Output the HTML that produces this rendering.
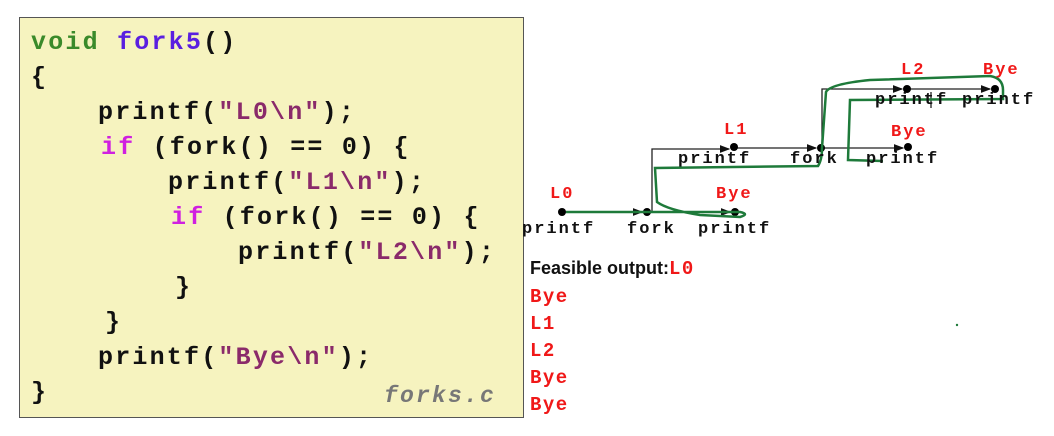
<!DOCTYPE html>
<html><head><meta charset="utf-8"><style>
body{margin:0;width:1054px;height:436px;background:#fff;position:relative;overflow:hidden;font-family:"Liberation Mono",monospace}
#box{position:absolute;left:19px;top:17px;width:505px;height:401px;background:#f6f3bf;border:1px solid #555;box-sizing:border-box}
.c{position:absolute;font-family:"Liberation Mono",monospace;font-weight:bold;font-size:25px;letter-spacing:2.2px;color:#111;white-space:pre;line-height:30px}
.g{color:#3a8a2a}.b{color:#5a1fe0}.m{color:#d020e0}.s{color:#8a2a6a}
.o{position:absolute;left:530px;font-weight:bold;font-size:19px;letter-spacing:1.5px;color:#f01818;line-height:22px}
.t{position:absolute;font-weight:bold;font-size:17px;letter-spacing:2px;color:#111;white-space:pre;line-height:18px}
.r{color:#f01818}
</style></head><body>
<div id="box"></div>
<div class="c" style="left:31px;top:28px"><span class="g">void</span> <span class="b">fork5</span>()</div>
<div class="c" style="left:31px;top:63px">{</div>
<div class="c" style="left:98px;top:98px">printf(<span class="s">"L0\n"</span>);</div>
<div class="c" style="left:101px;top:133px"><span class="m">if</span> (fork() == 0) {</div>
<div class="c" style="left:168px;top:168px">printf(<span class="s">"L1\n"</span>);</div>
<div class="c" style="left:171px;top:203px"><span class="m">if</span> (fork() == 0) {</div>
<div class="c" style="left:238px;top:238px">printf(<span class="s">"L2\n"</span>);</div>
<div class="c" style="left:175px;top:273px">}</div>
<div class="c" style="left:105px;top:308px">}</div>
<div class="c" style="left:98px;top:343px">printf(<span class="s">"Bye\n"</span>);</div>
<div class="c" style="left:31px;top:378px">}</div>
<div class="c" style="left:384px;top:381px;color:#777;font-style:italic;font-size:23px">forks.c</div>

<svg width="1054" height="436" style="position:absolute;left:0;top:0">
<defs><marker id="a" markerWidth="8" markerHeight="8" refX="7" refY="4" orient="auto"><path d="M0,1 L8,4 L0,7z" fill="#111"/></marker></defs>
<g stroke="#222" stroke-width="1.3" fill="none">
<line x1="562" y1="212" x2="642" y2="212" marker-end="url(#a)"/>
<line x1="647" y1="212" x2="730" y2="212" marker-end="url(#a)"/>
<polyline points="652,212 652,149 729,149" marker-end="url(#a)"/>
<line x1="734" y1="148" x2="816" y2="148" marker-end="url(#a)"/>
<line x1="821" y1="148" x2="903" y2="148" marker-end="url(#a)"/>
<polyline points="822,148 822,89 902,89" marker-end="url(#a)"/>
<line x1="907" y1="89" x2="990" y2="89" marker-end="url(#a)"/>
<line x1="931" y1="92" x2="931" y2="108"/>
</g>
<g fill="#000">
<circle cx="562" cy="212" r="4"/><circle cx="647" cy="212" r="4"/><circle cx="735" cy="212" r="4"/>
<circle cx="734" cy="147" r="4"/><circle cx="821" cy="148" r="4"/><circle cx="908" cy="147" r="4"/>
<circle cx="907" cy="89" r="4"/><circle cx="995" cy="89" r="4"/>
</g>
<path d="M566,212 L740,212 Q750,214 740,217 L700,215 Q668,210 657,202 L655,168 L818,166 Q822,160 822,148 L826,92 Q830,84 870,80 L990,76 Q1003,78 1003,90 L1003,99 L850,100 L848,160 L883,161" fill="none" stroke="#1e7a3a" stroke-width="2.5"/>
<circle cx="957" cy="325" r="1.2" fill="#1e7a3a"/>
</svg>

<div class="t r" style="left:550px;top:186px">L0</div>
<div class="t" style="left:522px;top:221px">printf</div>
<div class="t" style="left:627px;top:221px">fork</div>
<div class="t" style="left:698px;top:221px">printf</div>
<div class="t r" style="left:716px;top:186px">Bye</div>
<div class="t r" style="left:724px;top:122px">L1</div>
<div class="t" style="left:678px;top:151px">printf</div>
<div class="t" style="left:790px;top:151px">fork</div>
<div class="t" style="left:866px;top:151px">printf</div>
<div class="t r" style="left:891px;top:124px">Bye</div>
<div class="t r" style="left:901px;top:62px">L2</div>
<div class="t r" style="left:983px;top:62px">Bye</div>
<div class="t" style="left:875px;top:92px">printf</div>
<div class="t" style="left:962px;top:92px">printf</div>

<div class="o" style="top:257px;font-family:'Liberation Sans',sans-serif;color:#111;font-size:18px;letter-spacing:0">Feasible output:<span style="font-family:'Liberation Mono',monospace;color:#f01818;font-size:19px;letter-spacing:1.5px">L0</span></div>
<div class="o" style="top:286px">Bye</div>
<div class="o" style="top:313px">L1</div>
<div class="o" style="top:340px">L2</div>
<div class="o" style="top:367px">Bye</div>
<div class="o" style="top:394px">Bye</div>
</body></html>
